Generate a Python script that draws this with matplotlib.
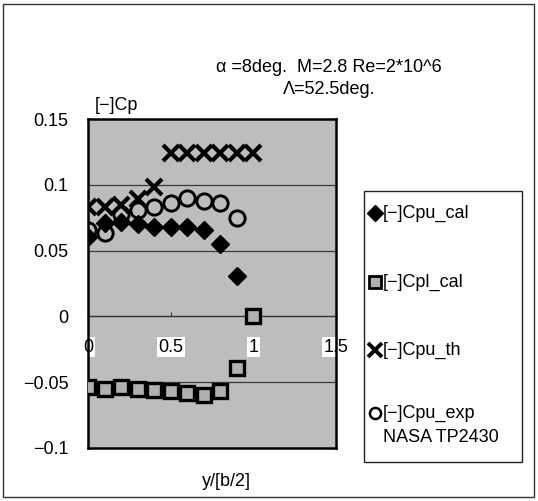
import numpy as np
import matplotlib.pyplot as plt
from matplotlib.lines import Line2D
from matplotlib.patches import Rectangle

plt.rcParams['font.family'] = ['Liberation Sans', 'DejaVu Sans']

# spanwise stations y/[b/2]
span_cal = [0.0, 0.1, 0.2, 0.3, 0.4, 0.5, 0.6, 0.7, 0.8, 0.9]
span_cpl = [0.0, 0.1, 0.2, 0.3, 0.4, 0.5, 0.6, 0.7, 0.8, 0.9, 1.0]
span_th = [0.0, 0.1, 0.2, 0.3, 0.4, 0.5, 0.6, 0.7, 0.8, 0.9, 1.0]
span_exp = [0.0, 0.1, 0.2, 0.3, 0.4, 0.5, 0.6, 0.7, 0.8, 0.9]

# [-]Cp values
cpu_cal = [0.060, 0.071, 0.072, 0.070, 0.068, 0.068, 0.068, 0.066, 0.055, 0.031]
cpl_cal = [-0.054, -0.055, -0.054, -0.055, -0.056, -0.057, -0.058, -0.060, -0.057, -0.039, 0.0]
cpu_th = [0.083, 0.083, 0.085, 0.089, 0.098, 0.124, 0.124, 0.124, 0.124, 0.124, 0.124]
cpu_exp = [0.066, 0.063, 0.078, 0.081, 0.083, 0.086, 0.090, 0.088, 0.086, 0.075]

x_ticks = [0, 0.5, 1, 1.5]
x_ticklabels = ['0', '0.5', '1', '1.5']
y_ticks = [0.15, 0.1, 0.05, 0, -0.05, -0.1]
y_ticklabels = ['0.15', '0.1', '0.05', '0', '\u22120.05', '\u22120.1']
grid_levels = [0.1, 0.05, -0.05]

W, H = 538, 501
def fx(px):
    return px / W
def fy(py):
    return 1 - py / H

fig = plt.figure(figsize=(W / 100, H / 100), dpi=100)
fig.add_artist(Rectangle((fx(3), fy(497)), fx(534) - fx(3), fy(4) - fy(497),
                         transform=fig.transFigure, fill=False, ec='#333333', lw=1))

ax = fig.add_axes([fx(88), fy(448), fx(336) - fx(88), fy(119) - fy(448)])
ax.set_facecolor('#bdbdbd')
ax.set_xlim(0, 1.5)
ax.set_ylim(-0.1, 0.15)

for g in grid_levels:
    ax.axhline(g, color='#3a3a3a', lw=0.9, zorder=1)

ax.plot(span_cal, cpu_cal, ls='none', marker='D', ms=9.5, color='black', zorder=4)
ax.plot(span_cpl, cpl_cal, ls='none', marker='s', ms=10.5, mfc='#b0b0b0', mec='black', mew=2.4, zorder=4)
ax.plot(span_th, cpu_th, ls='none', marker='x', ms=12, mew=3, color='black', zorder=5)
ax.plot(span_exp, cpu_exp, ls='none', marker='o', ms=11, mfc='none', mec='black', mew=2.1, zorder=5)

ax.set_xticks([])
ax.set_yticks(y_ticks)
ax.set_yticklabels(y_ticklabels, fontsize=13)
ax.tick_params(axis='y', length=0, pad=14)
for s in ax.spines.values():
    s.set_linewidth(1.8)
    s.set_color('black')

# horizontal axis crossing at Cp = 0
secax = ax.secondary_xaxis(0.4)
secax.set_xticks(x_ticks)
secax.set_xticklabels(x_ticklabels, fontsize=13)
secax.spines['bottom'].set_color('#333333')
secax.spines['bottom'].set_linewidth(1)
secax.tick_params(axis='x', direction='in', length=3, pad=16, color='#333333')
for lab in secax.get_xticklabels():
    lab.set_bbox(dict(facecolor='white', edgecolor='none', pad=1))

fig.text(fx(95), fy(106), '[\u2212]Cp', fontsize=13, va='center', ha='left')
fig.text(fx(216), fy(67), '\u03b1 =8deg.  M=2.8 Re=2*10^6', fontsize=13, va='center', ha='left')
fig.text(fx(283), fy(90), '\u039b=52.5deg.', fontsize=13, va='center', ha='left')
fig.text(fx(226), fy(481), 'y/[b/2]', fontsize=13, va='center', ha='center')

# legend box
fig.add_artist(Rectangle((fx(364), fy(462)), fx(522) - fx(364), fy(191) - fy(462),
                         transform=fig.transFigure, fill=False, ec='#222222', lw=1))
leg_rows = [
    (213, dict(marker='D', ms=8, color='black'), '[\u2212]Cpu_cal'),
    (282, dict(marker='s', ms=8.5, mfc='#b0b0b0', mec='black', mew=2), '[\u2212]Cpl_cal'),
    (350, dict(marker='x', ms=10, mew=2.8, color='black'), '[\u2212]Cpu_th'),
    (413, dict(marker='o', ms=8, mfc='none', mec='black', mew=1.8), '[\u2212]Cpu_exp'),
]
for py, style, label in leg_rows:
    fig.add_artist(Line2D([fx(375)], [fy(py)], transform=fig.transFigure, ls='none', **style))
    fig.text(fx(383), fy(py), label, fontsize=13, va='center', ha='left')
fig.text(fx(383), fy(438), 'NASA TP2430', fontsize=13, va='center', ha='left')

fig.savefig('out.png', dpi=100)
